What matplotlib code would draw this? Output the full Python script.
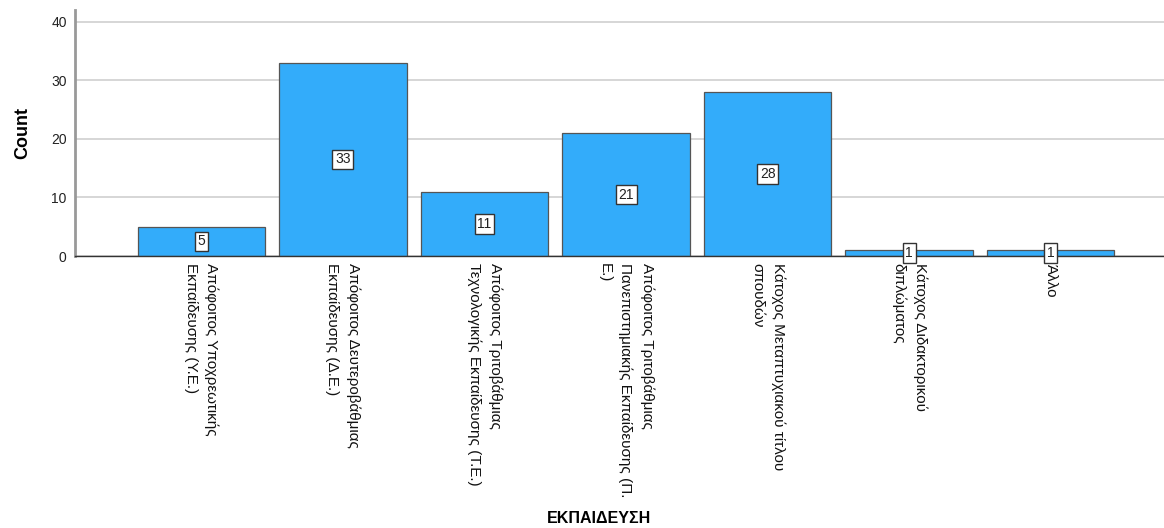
import matplotlib.pyplot as plt

plt.rcParams['font.family'] = ['Liberation Sans', 'DejaVu Sans']

# kategorie wyksztalcenia i liczebnosci
categories = [
    "Απόφοιτος Υποχρεωτικής\nΕκπαίδευσης (Υ.Ε.)",
    "Απόφοιτος Δευτεροβάθμιας\nΕκπαίδευσης (Δ.Ε.)",
    "Απόφοιτος Τριτοβάθμιας\nΤεχνολογικής Εκπαίδευσης (Τ.Ε.)",
    "Απόφοιτος Τριτοβάθμιας\nΠανεπιστημιακής Εκπαίδευσης (Π.\nΕ.)",
    "Κάτοχος Μεταπτυχιακού τίτλου\nσπουδών",
    "Κάτοχος Διδακτορικού\nδιπλώματος",
    "Άλλο",
]
counts = [5, 33, 11, 21, 28, 1, 1]
yticks = [0, 10, 20, 30, 40]

fig, ax = plt.subplots(figsize=(11.64, 5.28), dpi=100)
fig.subplots_adjust(left=0.0644, right=1.0, bottom=0.515, top=0.981)

x = list(range(len(categories)))
ax.set_axisbelow(True)
ax.yaxis.grid(True, color='#d0d0d0', linewidth=1.2)
bars = ax.bar(x, counts, width=0.9, color='#33acfa', edgecolor='#555555', linewidth=0.9)

# etykiety wartosci w ramkach
for xi, c in zip(x, counts):
    ax.text(xi, c / 2, str(c), ha='center', va='center', fontsize=10,
            color='#222222',
            bbox=dict(boxstyle='square,pad=0.2', facecolor='white',
                      edgecolor='#333333', linewidth=1))

ax.set_xlim(-0.893, 6.8)
ax.set_ylim(0, 42)
ax.set_yticks(yticks)
ax.tick_params(axis='y', length=0, labelsize=10, pad=6, labelcolor='#222222')
ax.tick_params(axis='x', length=0, pad=5)
ax.set_xticks(x)
ax.set_xticklabels(categories, rotation=-90, ha='center', va='top',
                   multialignment='left', fontsize=11,
                   color='#111111', linespacing=1.6)

for side in ['top', 'right']:
    ax.spines[side].set_visible(False)
ax.spines['left'].set_color('#999999')
ax.spines['left'].set_linewidth(2)
ax.spines['bottom'].set_color('#333333')
ax.spines['bottom'].set_linewidth(1)

ax.set_ylabel('Count', fontsize=13, fontweight='bold', labelpad=14)
fig.text(0.515, 0.018, 'ΕΚΠΑΙΔΕΥΣΗ', ha='center', va='center',
         fontsize=11.5, fontweight='bold')

fig.savefig('out.png', dpi=100)
